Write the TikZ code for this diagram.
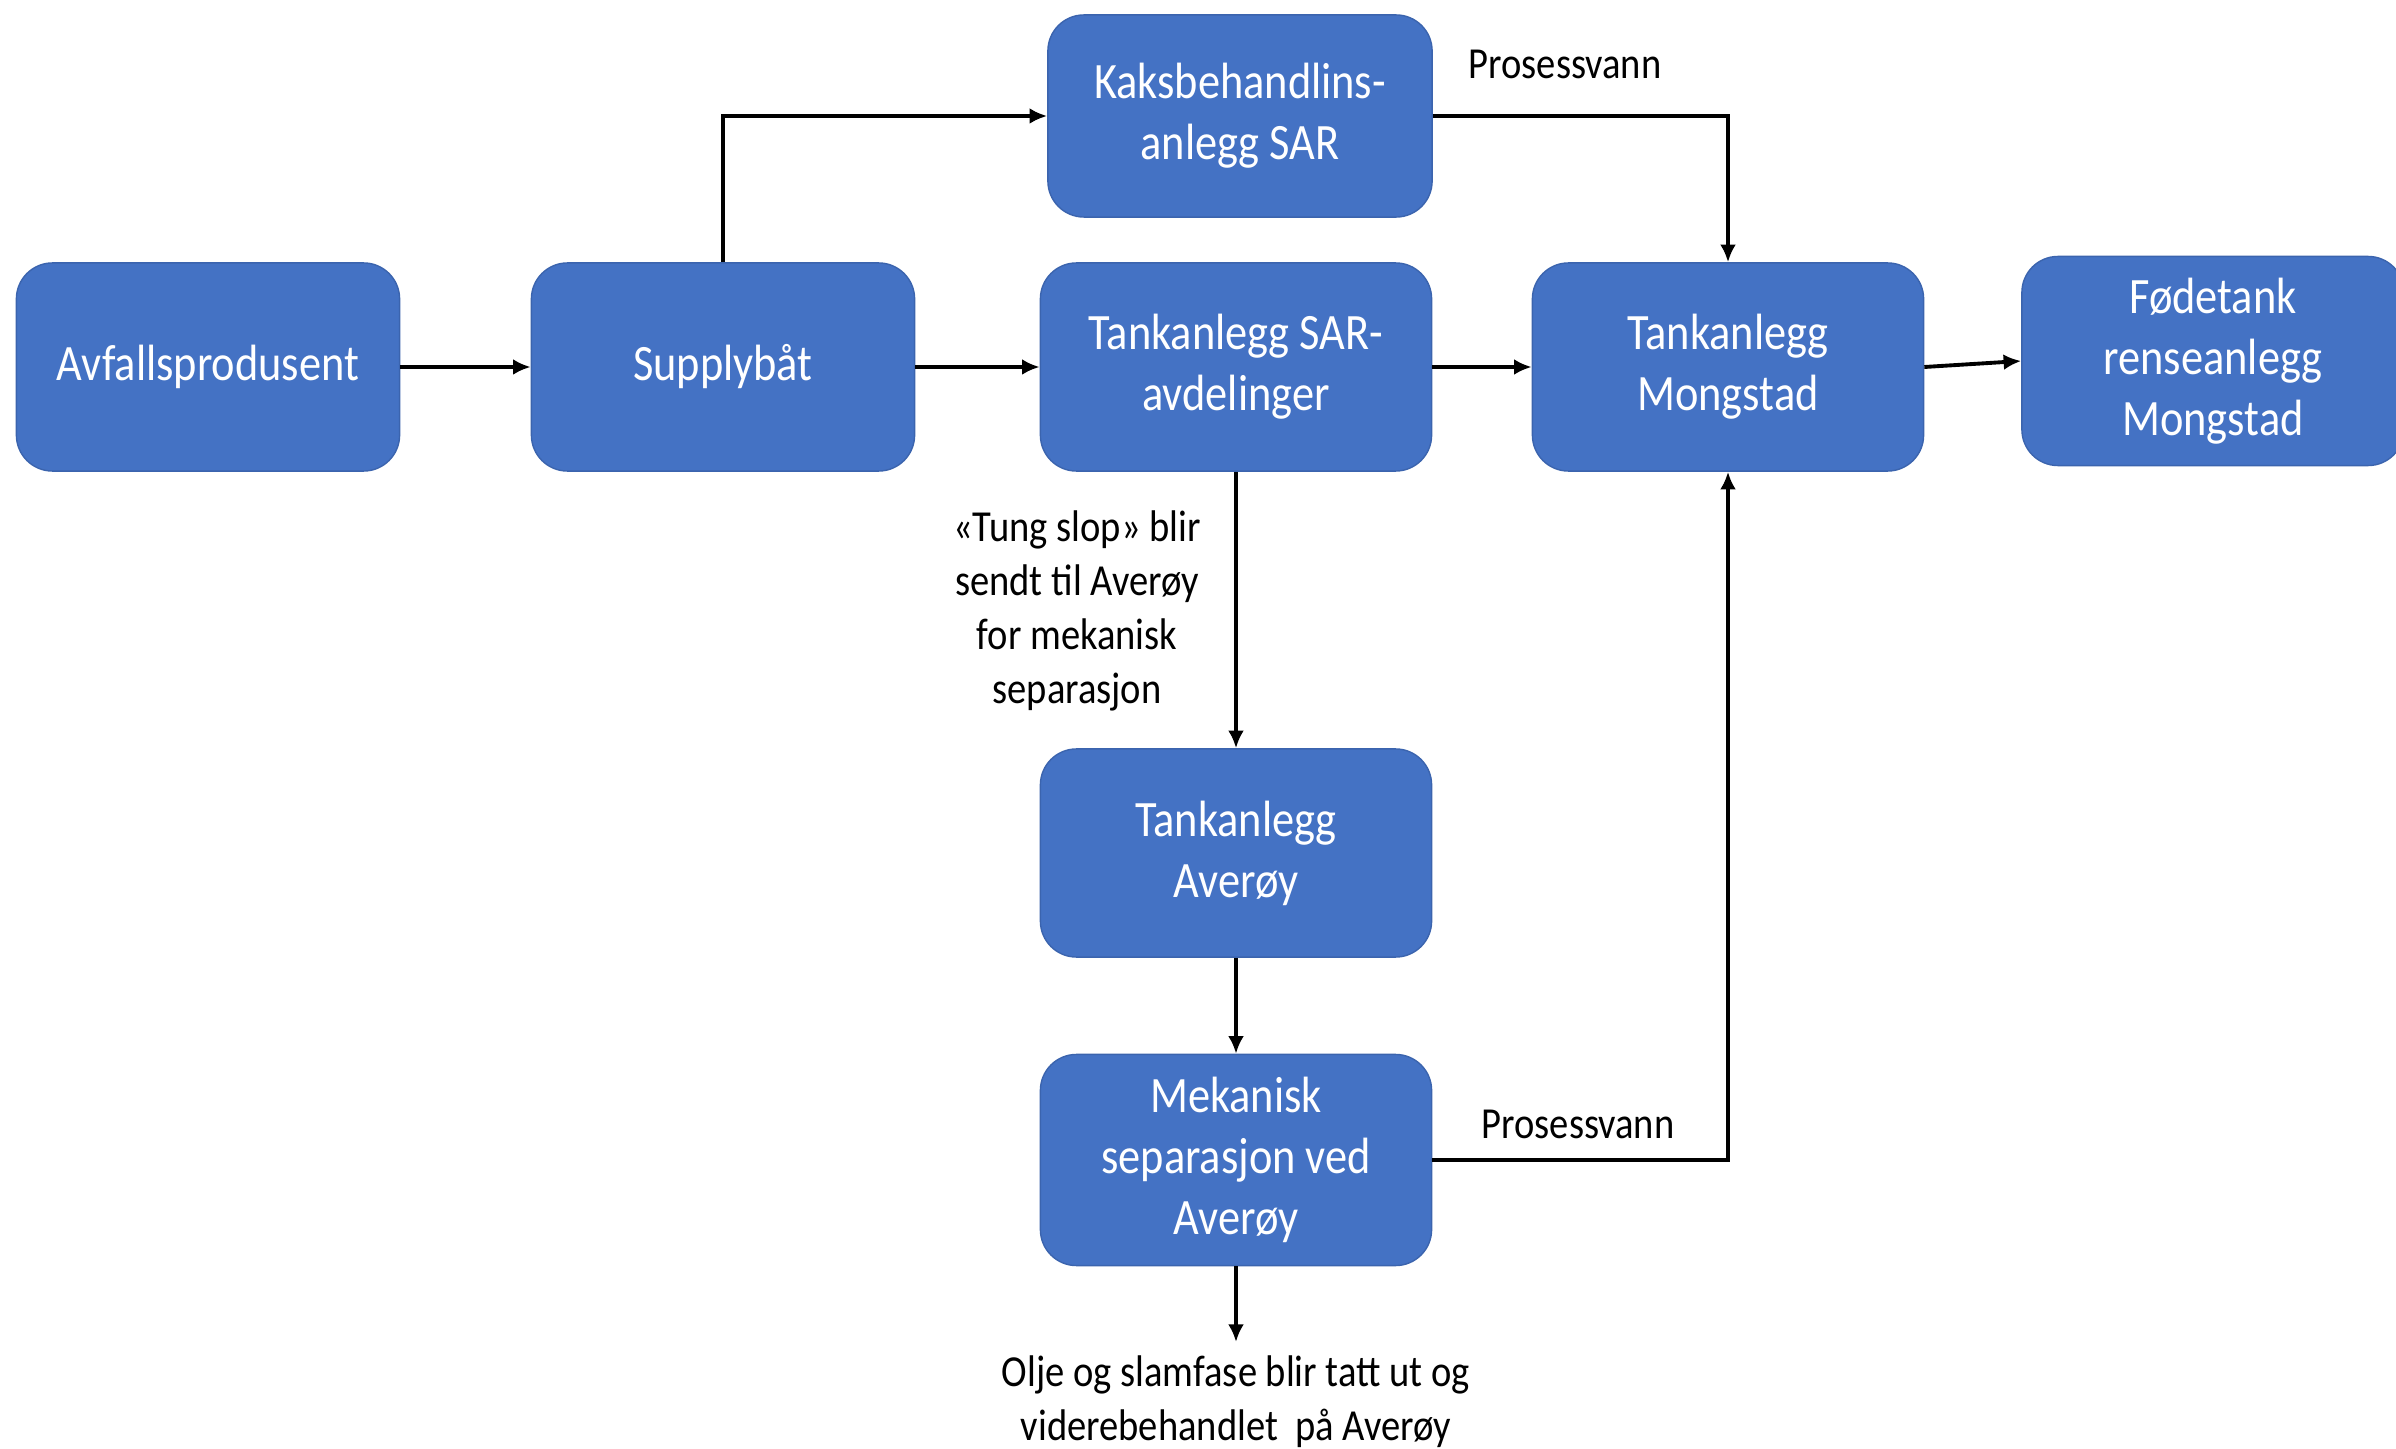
\documentclass[tikz,border=0pt]{standalone}
\usepackage{fontspec}
\setmainfont{Carlito}[FakeStretch=0.87]
\usetikzlibrary{arrows.meta}
\definecolor{boxblue}{HTML}{4472C4}
\definecolor{boxedge}{HTML}{3B64AE}
\begin{document}
\begin{tikzpicture}[x=0.01cm,y=-0.01cm,
  blk/.style={rectangle, rounded corners=0.36cm, fill=boxblue, draw=boxedge, line width=0.4pt,
    text=white, align=center, inner sep=0pt,
    font=\fontsize{14.5pt}{17.4pt}\selectfont},
  lbl/.style={align=center, inner sep=0pt, text=black,
    font=\fontsize{12.6pt}{15.4pt}\selectfont},
  flow/.style={line width=1.1pt, -{Latex[length=5pt,width=4.5pt]}}]
\useasboundingbox (0,0) rectangle (2396,1449);

\node[blk, minimum width=3.83cm, minimum height=2.08cm] (avf) at (208,367) {Avfallsprodusent};
\node[blk, minimum width=3.83cm, minimum height=2.08cm] (sup) at (723,367) {Supplybåt};
\node[blk, minimum width=3.84cm, minimum height=2.02cm] (kak) at (1240,116) {Kaksbehandlins-\\anlegg SAR};
\node[blk, minimum width=3.91cm, minimum height=2.08cm] (tsar) at (1236,367) {Tankanlegg SAR-\\avdelinger};
\node[blk, minimum width=3.91cm, minimum height=2.08cm] (mon) at (1728,367) {Tankanlegg\\Mongstad};
\node[blk, minimum width=3.82cm, minimum height=2.09cm] (fod) at (2213,361) {Fødetank\\renseanlegg\\Mongstad};
\node[blk, minimum width=3.91cm, minimum height=2.08cm] (ave) at (1236,853) {Tankanlegg\\Averøy};
\node[blk, minimum width=3.91cm, minimum height=2.11cm] (mek) at (1236,1160) {Mekanisk\\separasjon ved\\Averøy};

\coordinate (out) at (1236,1342);

\draw[flow] (avf) -- (sup);
\draw[flow] (sup) -- (tsar);
\draw[flow] (sup.north) |- (kak.west);
\draw[flow] (kak.east) -| (mon.north);
\draw[flow] (tsar) -- (mon);
\draw[flow] (mon.east) -- (fod.west);
\draw[flow] (tsar.south) -- (ave.north);
\draw[flow] (ave.south) -- (mek.north);
\draw[flow] (mek.east) -| (mon.south);
\draw[flow] (mek.south) -- (out);

\node[lbl] (pv1) at (1565,64) {Prosessvann};
\node[lbl] (pv2) at (1578,1124) {Prosessvann};
\node[lbl] (tung) at (1077,611) {«Tung slop» blir\\sendt til Averøy\\for mekanisk\\separasjon};
\node[lbl] (olje) at (1236,1402) {Olje og slamfase blir tatt ut og\\viderebehandlet~ på Averøy};
\end{tikzpicture}
\end{document}
